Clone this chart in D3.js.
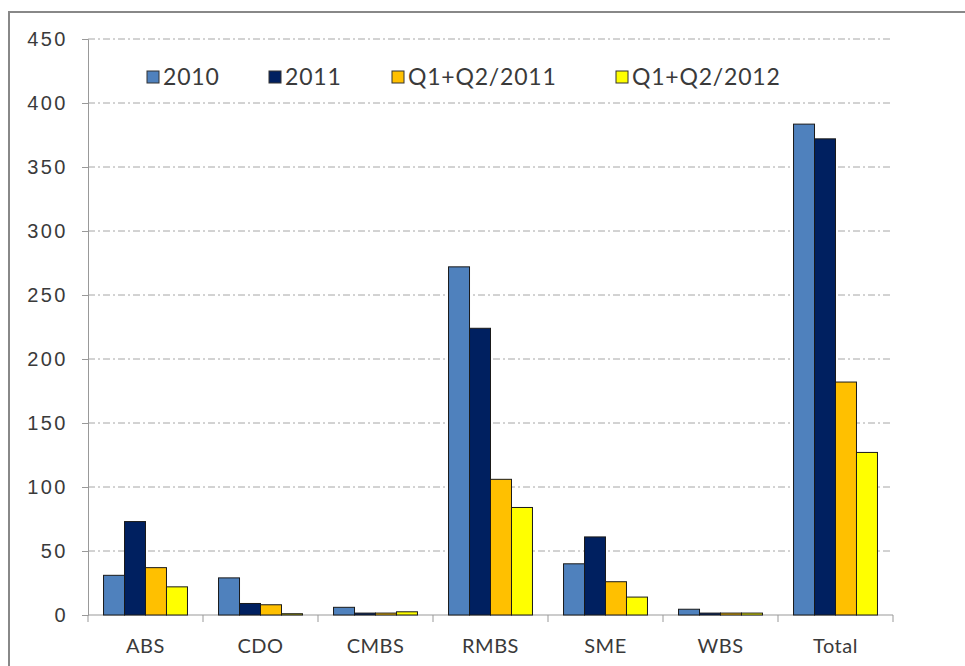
<!DOCTYPE html>
<html>
<head>
<meta charset="utf-8">
<script src="https://cdn.jsdelivr.net/npm/d3@7"></script>
<style>
  body { margin: 0; background: #fff; }
  svg { display: block; font-family: "Lato", "DejaVu Sans", sans-serif; }
</style>
</head>
<body>
<div id="chart"></div>
<script>
// categories and series
var categories = ["ABS", "CDO", "CMBS", "RMBS", "SME", "WBS", "Total"];
var seriesNames = ["2010", "2011", "Q1+Q2/2011", "Q1+Q2/2012"];
var s2010 = [31, 29, 6, 272, 40, 4.5, 383.5];
var s2011 = [73, 9, 1.5, 224, 61, 1.5, 372];
var sH2011 = [37, 8, 1.5, 106, 26, 1.5, 182];
var sH2012 = [22, 1, 2.5, 84, 14, 1.5, 127];
var yTicks = [0, 50, 100, 150, 200, 250, 300, 350, 400, 450];
var colors = ["#4f81bd", "#002060", "#ffc000", "#ffff00"];

var allSeries = [s2010, s2011, sH2011, sH2012];

var svgwidth = 965, svgheight = 666;
var margin = {top: 39, right: 72, bottom: 51, left: 88};
var width = svgwidth - margin.left - margin.right;
var height = svgheight - margin.top - margin.bottom;

var svg = d3.select("#chart").append("svg")
    .attr("width", svgwidth)
    .attr("height", svgheight);

// outer frame (runs off the right/bottom of the picture)
svg.append("rect")
    .attr("x", 9).attr("y", 12)
    .attr("width", 980).attr("height", 700)
    .attr("fill", "none")
    .attr("stroke", "#888")
    .attr("stroke-width", 2);

var g = svg.append("g")
    .attr("transform", "translate(" + margin.left + "," + margin.top + ")");

var x = d3.scaleBand().domain(categories).range([0, width]).paddingInner(0.27).paddingOuter(0.135);
var xSub = d3.scaleBand().domain(seriesNames).range([0, x.bandwidth()]);
var y = d3.scaleLinear().domain([0, 450]).range([height, 0]);

// dash-dot gridlines
g.append("g").selectAll("line")
    .data(yTicks.filter(function(d) { return d > 0; }))
    .enter().append("line")
    .attr("x1", 0).attr("x2", width)
    .attr("y1", function(d) { return y(d); })
    .attr("y2", function(d) { return y(d); })
    .attr("stroke", "#a6a6a6")
    .attr("stroke-width", 1)
    .attr("stroke-dasharray", "7,3,2,3");

// y axis
var yAxis = d3.axisLeft(y).tickValues(yTicks).tickSize(6).tickPadding(14);
var yAxisg = g.append("g").call(yAxis);
yAxisg.select(".domain").attr("stroke", "#999");
yAxisg.selectAll(".tick line").attr("stroke", "#999");
yAxisg.selectAll("text")
    .attr("fill", "#3a3a3a")
    .style("font-size", "20px")
    .style("letter-spacing", "2.5px");

// x axis: ticks sit on category boundaries
var bounds = d3.range(categories.length + 1).map(function(i) { return i * width / categories.length; });
var xAxisg = g.append("g").attr("transform", "translate(0," + height + ")");
xAxisg.append("line")
    .attr("x1", 0).attr("x2", width)
    .attr("stroke", "#999");
xAxisg.selectAll(".xtick")
    .data(bounds)
    .enter().append("line")
    .attr("class", "xtick")
    .attr("x1", function(d) { return d; })
    .attr("x2", function(d) { return d; })
    .attr("y1", 0).attr("y2", 7)
    .attr("stroke", "#999");
xAxisg.selectAll(".xlabel")
    .data(categories)
    .enter().append("text")
    .attr("class", "xlabel")
    .attr("x", function(d) { return x(d) + x.bandwidth() / 2; })
    .attr("y", 31)
    .attr("dy", "0.35em")
    .attr("text-anchor", "middle")
    .attr("fill", "#3a3a3a")
    .style("font-size", "20px")
    .style("letter-spacing", "0.5px")
    .text(function(d) { return d; });

// bars
allSeries.forEach(function(vals, si) {
    g.append("g").selectAll("rect")
        .data(categories)
        .enter().append("rect")
        .attr("x", function(d) { return x(d) + xSub(seriesNames[si]); })
        .attr("y", function(d, i) { return y(vals[i]); })
        .attr("width", xSub.bandwidth())
        .attr("height", function(d, i) { return height - y(vals[i]); })
        .attr("fill", colors[si])
        .attr("stroke", "#1a1a1a")
        .attr("stroke-width", 1);
});

// legend
var legendX = [147, 269, 392, 616];
var legend = svg.append("g").selectAll("g")
    .data(seriesNames)
    .enter().append("g")
    .attr("transform", function(d, i) { return "translate(" + legendX[i] + ",77)"; });
legend.append("rect")
    .attr("x", 0).attr("y", -6)
    .attr("width", 12).attr("height", 12)
    .attr("fill", function(d, i) { return colors[i]; })
    .attr("stroke", "#333")
    .attr("stroke-width", 1);
legend.append("text")
    .attr("x", 16)
    .attr("dy", "0.35em")
    .attr("fill", "#3a3a3a")
    .style("font-size", "23px")
    .style("letter-spacing", "0.8px")
    .text(function(d) { return d; });
</script>
</body>
</html>
